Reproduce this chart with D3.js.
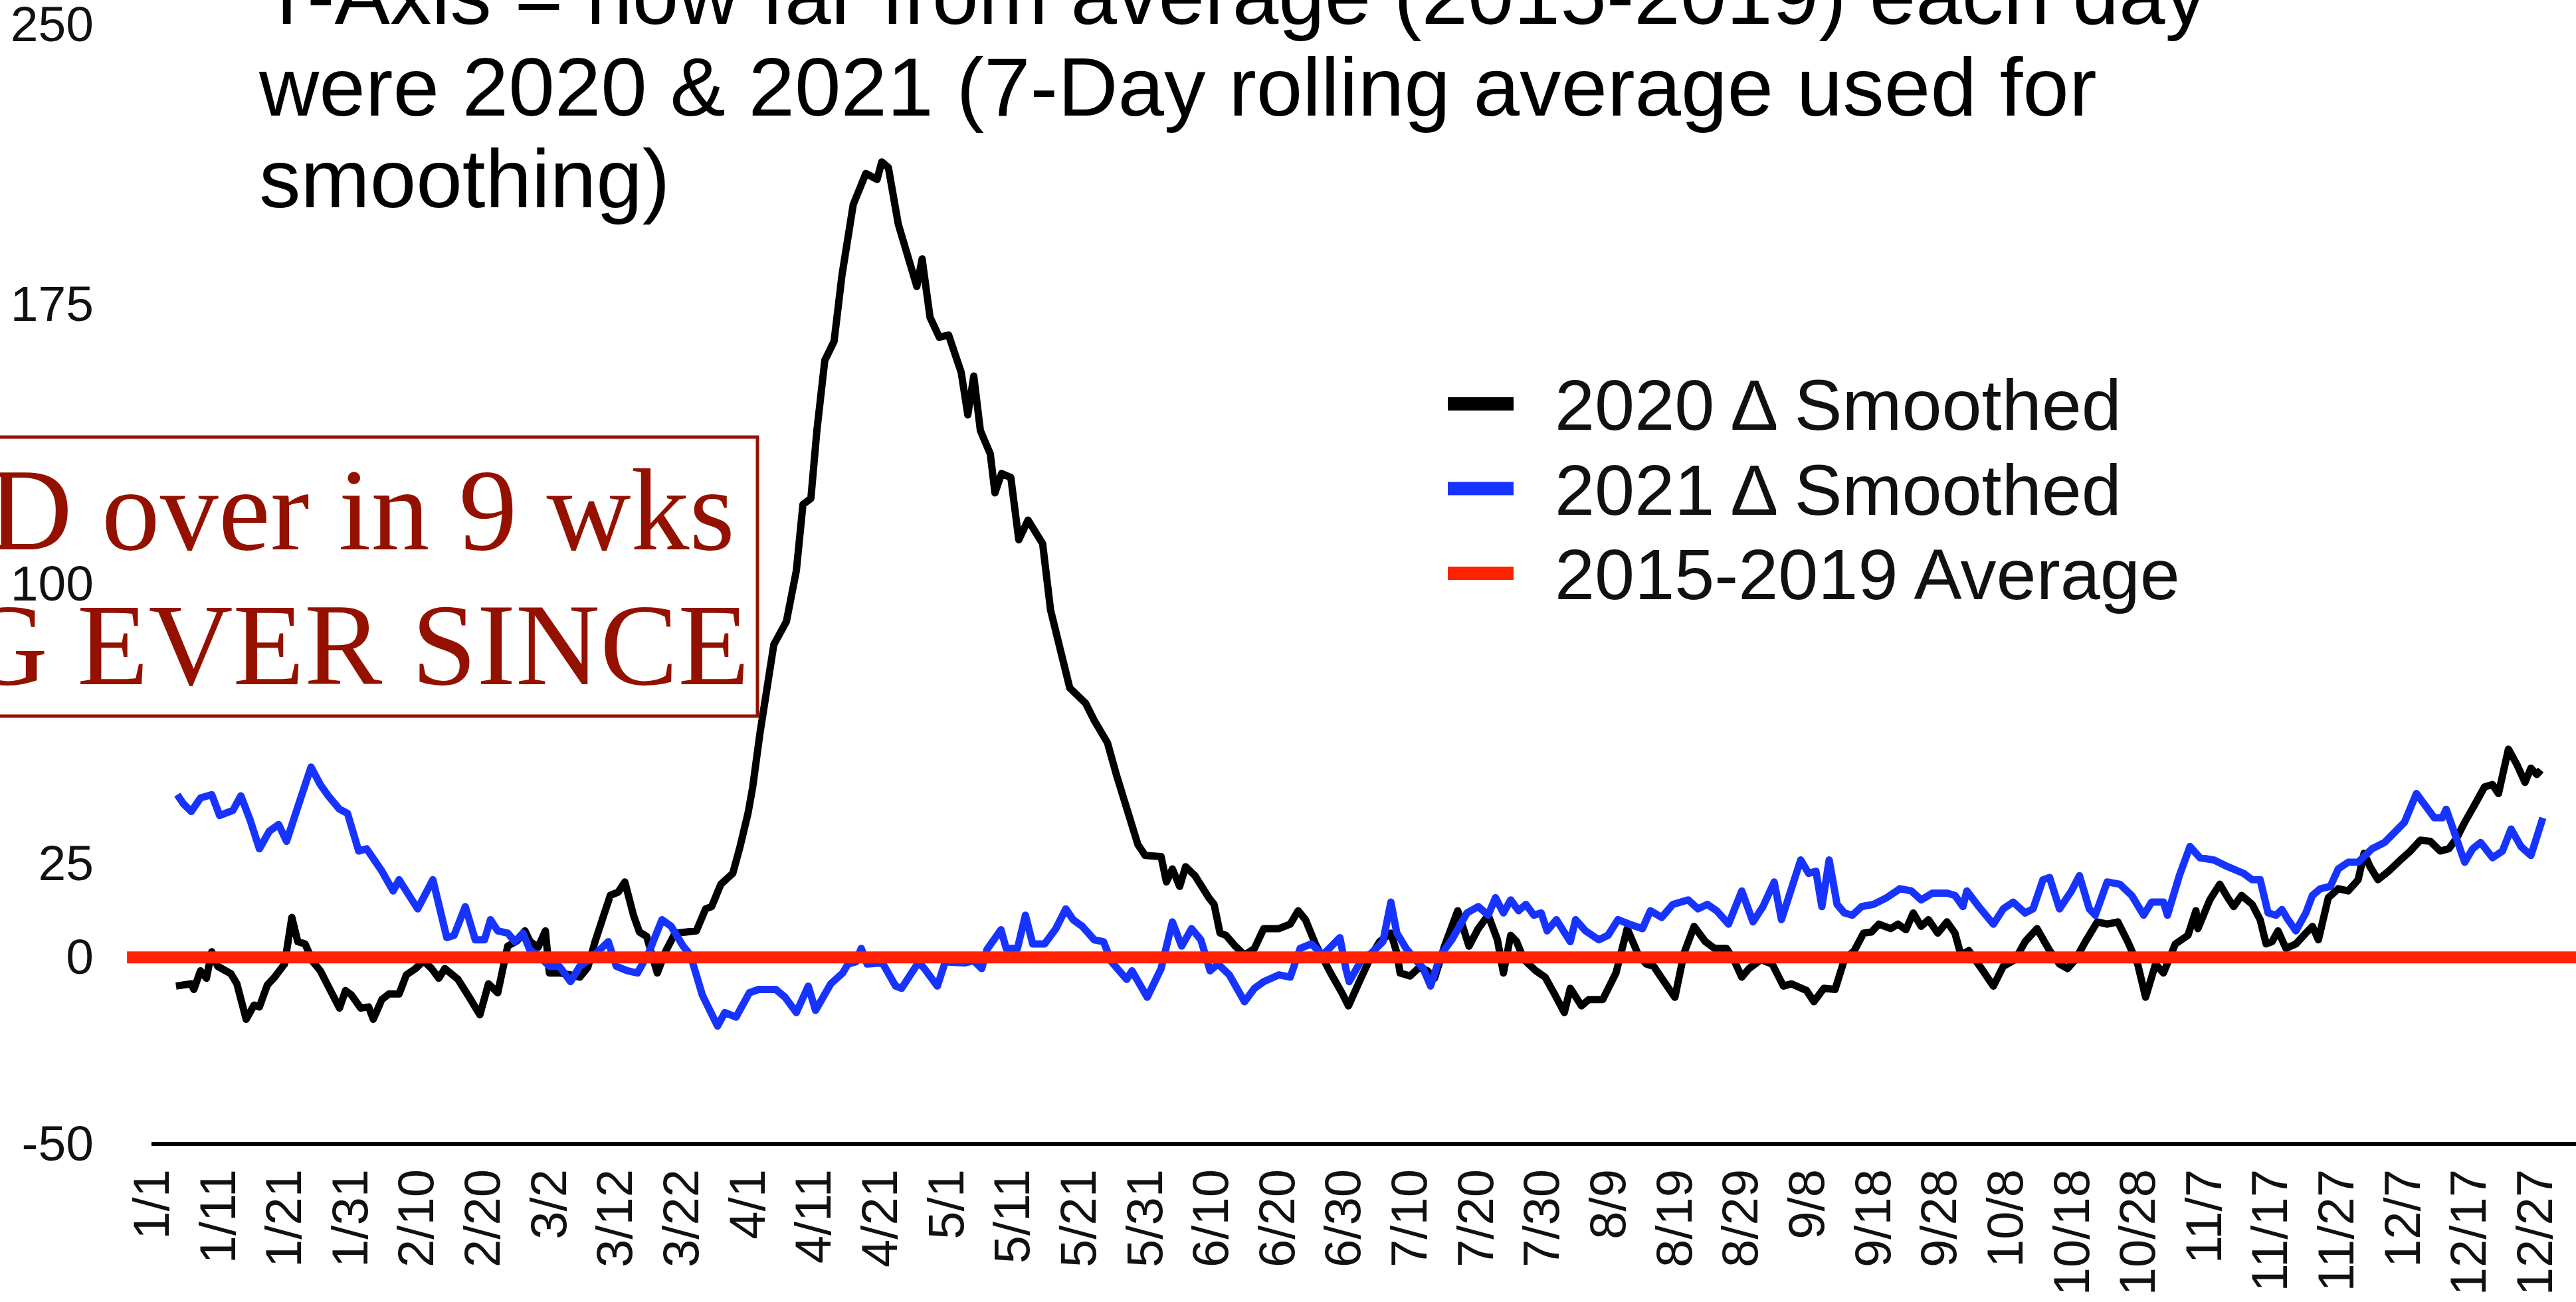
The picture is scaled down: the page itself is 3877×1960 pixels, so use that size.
<!DOCTYPE html>
<html>
<head>
<meta charset="utf-8">
<script src="https://cdn.jsdelivr.net/npm/d3@7"></script>
<style>
html,body{margin:0;padding:0;background:#fff;overflow:hidden}
svg{display:block}
</style>
</head>
<body>
<svg id="chart" width="3877" height="1960"></svg>
<script>
// ---------------- DATA ----------------
const xTickLabels = ["1/1","1/11","1/21","1/31","2/10","2/20","3/2","3/12","3/22","4/1","4/11","4/21","5/1","5/11","5/21","5/31","6/10","6/20","6/30","7/10","7/20","7/30","8/9","8/19","8/29","9/8","9/18","9/28","10/8","10/18","10/28","11/7","11/17","11/27","12/7","12/17","12/27"];
const yTickValues = [-50, 0, 25, 100, 175, 250];

const titleLines = [
  "Y-Axis = how far from average (2015-2019) each day",
  "were 2020 & 2021 (7-Day rolling average used for",
  "smoothing)"
];
const seriesNames = ["2020 \u0394 Smoothed", "2021 \u0394 Smoothed", "2015-2019 Average"];
const annotationLines = ["D over in 9 wks", "G EVER SINCE"];

// day of year (0 = 1/1) and difference from 2015-2019 average
const days2020 = [3.9,6.2,6.6,7.6,8.5,9.3,10.2,12.2,13.1,14.5,15.7,16.5,17.7,18.8,20.3,21.4,22.3,23.4,24.6,25.7,28.6,29.5,30.4,31.8,33.0,33.7,35.0,36.1,37.6,38.7,40.1,41.3,42.5,43.6,44.5,46.5,48.2,49.8,51.1,52.5,54.0,55.4,56.6,57.4,58.6,59.7,60.3,62.0,63.5,64.9,66.1,67.2,68.4,69.5,70.7,71.7,73.0,73.9,75.0,75.6,76.6,77.9,79.3,81.0,82.5,83.9,84.8,86.2,88.0,89.1,90.3,91.0,92.1,94.2,96.1,97.6,98.6,99.8,100.7,101.9,103.3,104.5,106.2,108.1,109.8,110.5,111.5,113.0,115.8,116.6,117.8,119.2,120.6,122.5,123.5,124.4,125.4,126.9,127.6,128.6,130.0,131.2,132.6,134.8,136.0,138.9,141.3,142.6,144.6,146.0,149.2,150.3,152.7,153.5,154.4,155.5,156.4,157.8,159.9,160.7,161.6,162.5,163.9,165.3,166.8,168.2,170.5,172.2,173.4,174.5,176.0,178.3,180.0,181.0,182.8,184.5,185.7,187.4,188.3,188.8,190.3,191.7,192.9,194.0,195.5,197.5,199.2,200.6,202.1,203.5,204.4,205.5,206.4,207.5,209.3,210.7,212.2,213.6,214.5,216.2,217.3,219.4,221.4,223.1,224.8,226.0,227.1,228.9,230.3,231.7,233.2,234.9,236.3,238.1,239.2,240.4,241.5,243.3,245.0,246.7,247.9,250.2,251.3,252.8,254.5,255.9,257.4,258.8,260.0,261.1,262.9,264.0,265.2,266.3,267.5,268.6,270.0,271.4,272.6,273.5,274.7,276.6,278.4,279.9,281.7,283.2,285.0,286.9,288.4,289.6,290.8,292.3,294.1,295.6,297.2,298.7,300.2,301.4,302.9,304.1,305.9,307.8,309.0,309.3,311.1,312.6,313.8,314.7,315.9,317.5,318.7,319.6,320.5,321.4,322.6,324.1,325.6,326.6,327.5,329.0,330.5,332.0,333.5,334.4,335.3,336.5,338.1,339.9,341.4,342.9,344.4,345.9,347.2,348.4,349.6,351.1,352.6,353.8,354.7,356.2,357.5,358.7,359.6,360.5,361.1];
const delta2020 = [-7.7,-7.1,-8.6,-3.6,-5.6,1.5,-2.4,-4.4,-7.1,-16.6,-12.8,-13.3,-7.4,-5.3,-1.8,10.7,4.2,3.6,-1.2,-3.6,-13.6,-8.9,-10.1,-13.6,-13.3,-16.6,-11.3,-9.8,-9.8,-4.7,-3.0,-0.9,-3.0,-5.6,-3.0,-5.9,-10.7,-15.4,-7.1,-9.5,3.0,4.4,7.1,4.2,2.7,7.1,-4.2,-4.2,-4.7,-5.3,-2.7,4.2,10.7,16.6,17.5,20.2,11.3,6.8,5.6,1.8,-4.2,1.8,6.5,6.8,7.1,13.0,13.6,19.6,22.5,29.7,38.6,45.5,60.0,83.8,90.0,103.6,121.4,123.0,141.1,160.0,165.1,182.9,201.8,210.1,208.5,213.2,211.7,196.5,179.8,187.2,171.5,166.2,166.8,156.8,145.4,155.8,141.2,134.9,124.5,129.7,128.6,111.9,117.2,110.9,93.1,72.2,68.1,63.5,57.5,48.6,30.2,27.3,27.0,20.2,23.7,19.0,24.3,21.9,16.0,14.2,6.5,5.9,3.0,0.6,2.4,7.7,7.7,8.9,12.5,10.1,3.6,-4.2,-9.5,-13.0,-5.9,0.6,4.2,6.5,1.2,-4.2,-5.0,-2.7,-3.6,-5.6,3.0,12.5,3.0,7.7,11.3,4.7,-4.2,5.9,4.2,-0.6,-3.6,-5.3,-10.1,-14.8,-8.3,-13.0,-11.3,-11.3,-4.2,7.7,0.6,-1.8,-2.4,-7.1,-10.7,1.2,8.3,4.2,2.4,2.4,-0.6,-5.3,-3.0,-0.6,-1.8,-7.7,-7.1,-8.9,-11.9,-8.3,-8.6,-0.6,1.8,6.5,6.8,8.9,7.7,8.9,7.4,11.9,8.3,10.1,6.5,9.5,6.5,0.6,1.8,-3.0,-7.7,-2.4,-0.6,4.2,7.7,1.8,-1.8,-3.0,-0.6,4.2,9.5,8.9,9.5,4.2,-1.8,-10.7,-1.8,-4.2,3.6,5.9,12.5,7.7,15.4,19.6,16.0,13.6,16.6,14.2,10.1,3.6,4.2,7.1,2.4,3.6,6.5,8.3,4.7,16.0,18.4,17.8,20.8,27.9,24.3,20.8,23.1,26.1,28.5,31.4,31.1,28.5,29.1,32.0,36.2,40.9,45.7,46.3,43.9,55.8,51.6,46.9,50.7,49.0,50.2];

const days2021 = [4.1,5.0,6.2,7.6,9.3,10.5,12.5,13.7,15.1,16.5,18.0,19.4,20.6,22.3,24.3,25.7,26.9,28.6,29.8,31.5,32.7,35.0,36.7,37.6,40.4,42.7,44.8,45.9,47.6,49.1,50.5,51.4,52.5,54.0,55.1,56.3,57.4,58.6,60.3,61.8,63.5,64.9,66.4,69.2,70.4,72.1,73.6,75.3,77.3,78.7,80.5,81.6,83.4,85.7,86.8,88.5,90.5,91.9,94.5,95.9,97.6,99.4,100.5,102.8,104.6,105.4,106.6,107.4,108.3,110.6,112.6,113.5,116.1,117.2,118.9,120.1,123.0,124.4,125.6,126.4,128.5,129.3,131.0,132.2,133.3,135.1,136.8,138.3,139.4,140.8,142.6,144.0,145.2,147.5,148.3,150.6,152.7,154.4,155.8,157.3,158.7,160.1,161.3,163.0,165.3,166.8,168.2,170.5,172.2,173.7,175.4,177.1,179.7,180.6,181.1,182.8,184.5,186.2,187.4,188.3,189.7,191.1,192.3,193.4,194.9,196.6,198.9,200.6,202.1,203.2,204.4,205.5,206.7,207.8,209.0,210.1,211.0,212.4,214.5,215.3,216.8,218.8,220.2,221.7,223.4,225.4,226.6,228.3,230.0,232.3,233.8,235.2,236.6,238.4,240.4,242.1,243.6,245.3,246.4,247.9,249.3,250.5,251.6,252.5,253.6,254.8,255.9,257.1,258.5,260.3,262.3,264.3,266.0,267.5,269.2,271.4,272.6,273.8,274.4,276.2,278.4,279.9,281.4,283.2,284.4,285.9,286.9,288.4,290.2,291.4,292.9,293.8,295.6,297.5,299.3,301.1,302.3,304.1,304.7,306.5,308.1,309.6,311.7,313.8,316.2,317.5,318.7,319.9,321.1,322.0,322.9,324.1,325.6,326.6,327.8,329.3,330.5,332.0,333.5,335.6,337.5,340.5,342.3,343.8,345.0,346.2,346.8,349.6,350.8,352.0,353.8,355.3,356.6,358.1,359.6,361.4];
const delta2021 = [43.6,41.2,39.1,42.7,43.6,38.0,39.4,43.3,36.8,29.1,33.8,35.6,31.1,40.3,51.0,46.3,43.3,39.7,38.6,28.5,29.1,23.1,17.8,20.8,13.0,20.8,5.3,5.9,13.6,4.7,4.7,10.1,7.1,6.5,4.2,6.5,1.8,0.6,-2.4,-2.4,-6.5,-2.4,-0.6,4.2,-2.4,-3.6,-4.2,1.2,10.1,8.3,3.0,0.6,-10.1,-18.4,-14.8,-16.0,-9.5,-8.6,-8.6,-10.7,-14.8,-7.7,-14.2,-7.1,-4.2,-1.8,-1.2,2.4,-1.8,-1.5,-7.7,-8.3,-1.2,-3.6,-7.7,-1.2,-1.5,-0.9,-3.0,2.1,7.4,2.4,2.4,11.3,3.6,3.6,7.7,13.0,10.1,8.3,4.7,4.2,-1.2,-5.9,-3.6,-10.7,-3.0,9.5,3.0,7.7,4.7,-3.6,-1.8,-4.7,-11.9,-8.3,-6.5,-4.7,-5.3,2.4,3.6,0.6,5.3,-3.0,-6.5,-1.2,1.2,4.2,14.8,6.5,2.4,-0.6,-3.0,-7.7,0.6,4.7,11.9,13.6,11.3,16.0,11.9,15.4,12.5,14.2,11.3,11.9,7.1,10.1,4.2,10.1,7.1,4.7,5.9,10.1,8.9,7.7,12.5,10.7,14.2,15.4,13.0,14.2,12.5,8.9,17.8,9.5,13.6,20.2,10.1,18.4,26.1,22.5,23.1,13.6,26.1,14.2,11.9,11.3,13.6,14.2,16.0,18.4,17.8,15.4,17.2,17.2,16.6,13.6,17.8,13.6,8.9,13.0,14.8,11.9,13.0,20.8,21.4,13.0,17.8,21.9,13.0,11.3,20.2,19.6,16.6,11.3,14.8,14.8,11.3,21.9,29.7,26.7,26.1,24.3,22.5,20.8,20.8,11.9,11.3,12.8,10.1,7.1,11.9,16.6,18.4,19.0,23.7,25.5,25.5,29.1,30.8,36.2,43.9,40.3,37.4,37.4,39.7,25.5,29.1,30.8,26.7,28.5,34.4,29.7,27.3,37.4];

// 2015-2019 average = zero baseline (drawn across the whole axis)
const avgDays = [-3.5, 367];
const avgDelta = [0, 0];

const seriesColors = ["#000000", "#1733ff", "#ff2200"];
const noteColor = "#941100";

// ---------------- CHART ----------------
const W = 3877, H = 1960;
const FONT = "'Liberation Sans', Arial, sans-serif";
const svg = d3.select("#chart");
svg.append("rect").attr("width", W).attr("height", H).attr("fill", "#fff");

const x = d3.scaleLinear().domain([0, 364]).range([226, 3853]);
const y = d3.scaleLinear().domain([-50, 250]).range([1722, 37]);

const base = new Date(2021, 0, 1);
const tickDays = xTickLabels.map(s => {
  const [m, d] = s.split("/").map(Number);
  return d3.timeDay.count(base, new Date(2021, m - 1, d));
});

// Title
const title = svg.append("g").attr("font-family", FONT).attr("font-size", 125).attr("fill", "#000");
title.selectAll("text").data(titleLines).join("text")
  .attr("x", 390).attr("y", (d, i) => 36 + i * 138).text(d => d);

// Y axis (labels only)
const yAxis = svg.append("g").attr("transform", "translate(141,0)")
  .call(d3.axisLeft(y).tickValues(yTickValues).tickSize(0).tickPadding(0).tickFormat(d => String(d)));
yAxis.select(".domain").remove();
yAxis.selectAll("text").attr("font-family", FONT).attr("font-size", 75).attr("fill", "#111");

// X axis
const xAxis = svg.append("g").attr("transform", `translate(0,${y(-50)})`)
  .call(d3.axisBottom(x).tickValues(tickDays).tickSize(0).tickFormat((d, i) => xTickLabels[i]));
xAxis.select(".domain").remove();
xAxis.append("line").attr("x1", x(0) + 2).attr("x2", W).attr("y1", 0).attr("y2", 0)
  .attr("stroke", "#000").attr("stroke-width", 6);
xAxis.selectAll(".tick text")
  .attr("font-family", FONT).attr("font-size", 76).attr("fill", "#111")
  .attr("transform", "rotate(-90)").attr("text-anchor", "end")
  .attr("x", -38).attr("y", 0).attr("dy", "0.36em");

// Annotation box
const note = svg.append("g");
note.append("rect").attr("x", -10).attr("y", 658).attr("width", 1150).attr("height", 420)
  .attr("fill", "none").attr("stroke", noteColor).attr("stroke-width", 5);
note.selectAll("text").data(annotationLines).join("text")
  .attr("font-family", "'Liberation Serif', 'Times New Roman', serif").attr("font-size", 176)
  .attr("fill", noteColor).attr("text-anchor", "end")
  .attr("x", (d, i) => i === 0 ? 1106 : 1128)
  .attr("y", (d, i) => i === 0 ? 827 : 1030)
  .text(d => d);

// Lines
const line = d3.line().x(d => x(d[0])).y(d => y(d[1]));
const s2020 = days2020.map((d, i) => [d, delta2020[i]]);
const s2021 = days2021.map((d, i) => [d, delta2021[i]]);
const sAvg = avgDays.map((d, i) => [d, avgDelta[i]]);

svg.append("path").datum(s2020).attr("d", line).attr("fill", "none")
  .attr("stroke", seriesColors[0]).attr("stroke-width", 11).attr("stroke-linejoin", "round");
svg.append("path").datum(s2021).attr("d", line).attr("fill", "none")
  .attr("stroke", seriesColors[1]).attr("stroke-width", 11).attr("stroke-linejoin", "round");
svg.append("path").datum(sAvg).attr("d", line).attr("fill", "none")
  .attr("stroke", seriesColors[2]).attr("stroke-width", 18);

// Legend
const legend = svg.append("g");
const lg = legend.selectAll("g").data(seriesNames).join("g")
  .attr("transform", (d, i) => `translate(0,${608 + i * 127.5})`);
lg.append("line").attr("x1", 2179).attr("x2", 2278).attr("y1", 0).attr("y2", 0)
  .attr("stroke", (d, i) => seriesColors[i]).attr("stroke-width", 20);
lg.append("text").attr("x", 2340).attr("y", 39)
  .attr("font-family", FONT).attr("font-size", 108).attr("fill", "#111")
  .text(d => d);
</script>
</body>
</html>
